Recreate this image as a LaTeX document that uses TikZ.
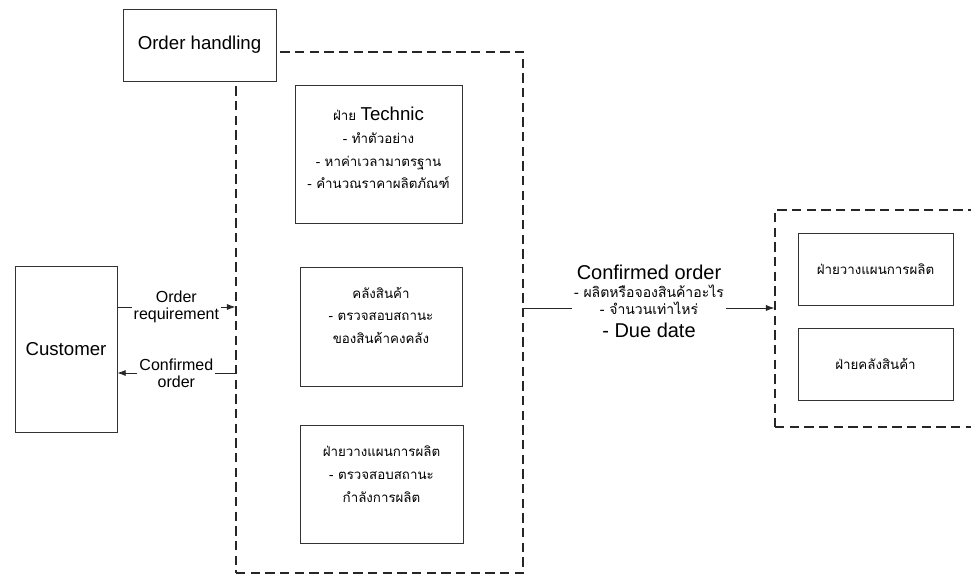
\documentclass[tikz,border=0pt]{standalone}
\usepackage{fontspec}
\setmainfont{Liberation Sans}
\newfontfamily\thaifont[Script=Thai]{Loma}
\usetikzlibrary{positioning,arrows.meta}

\begin{document}
\begin{tikzpicture}[x=0.75pt,y=-0.75pt,
    box/.style={draw=black!80, fill=white, line width=0.6pt, align=center, inner sep=0pt},
    zone/.style={draw=black!85, line width=1pt, dash pattern=on 7pt off 4pt, inner sep=0pt},
    arr/.style={-{Latex[length=2.2mm,width=1.6mm]}, draw=black!85, line width=0.6pt},
    lbl/.style={fill=white, align=center, inner sep=1.5pt, font=\fontsize{12}{13}\selectfont},
    th/.style={font=\thaifont\fontsize{10}{17}\selectfont}]
    \useasboundingbox (0,0) rectangle (971,576);

    % order handling
    \node[zone, minimum width=215.25pt, minimum height=390.75pt] (zone) at (379.5,312.5) {};
    \node[box, minimum width=114.75pt, minimum height=54pt, font=\fontsize{14}{16}\selectfont] (handling) at (199.5,45) {Order handling};

    \node[box, th, text depth=9pt, minimum width=125.25pt, minimum height=103.5pt] (tech) at (378.5,154)
        {ฝ่าย {\normalfont\fontsize{14}{17}\selectfont Technic}\\- ทำตัวอย่าง\\- หาค่าเวลามาตรฐาน\\- คำนวณราคาผลิตภัณฑ์};
    \node[box, th, text depth=17pt, minimum width=121.5pt, minimum height=89.25pt] (stock) at (381,326.5)
        {คลังสินค้า\\- ตรวจสอบสถานะ\\ของสินค้าคงคลัง};
    \node[box, th, text depth=15pt, minimum width=122.25pt, minimum height=88.5pt] (plan) at (381.5,484)
        {ฝ่ายวางแผนการผลิต\\- ตรวจสอบสถานะ\\กำลังการผลิต};

    % customer
    \node[box, minimum width=76.5pt, minimum height=124.5pt, font=\fontsize{14}{16}\selectfont] (cust) at (66,349) {Customer};

    \draw[arr] ([yshift=31.5pt]cust.east) -- node[lbl] {Order\\requirement} ([yshift=31.5pt]cust.east -| zone.west);
    \draw[arr] ([yshift=-18pt]cust.east -| zone.west) -- node[lbl] {Confirmed\\order} ([yshift=-18pt]cust.east);

    % next departments
    \node[zone, minimum width=165pt, minimum height=162.75pt] (rzone) at (885,318.5) {};
    \node[box, th, minimum width=116.25pt, minimum height=54pt] (rplan) at (875.5,269) {ฝ่ายวางแผนการผลิต};
    \node[box, th, minimum width=116.25pt, minimum height=54pt] (rstock) at (875.5,364) {ฝ่ายคลังสินค้า};

    \draw[arr] ([yshift=3.4pt]zone.east) -- node[lbl, yshift=5pt]
        {{\fontsize{15}{17}\selectfont Confirmed order}\\
         {\thaifont\fontsize{10.5}{15}\selectfont - ผลิตหรือจองสินค้าอะไร}\\
         {\thaifont\fontsize{10.5}{15}\selectfont - จำนวนเท่าไหร่}\\[4pt]
         {\fontsize{15}{15}\selectfont - Due date}}
        ([yshift=3.4pt]zone.east -| rzone.west);
\end{tikzpicture}
\end{document}
